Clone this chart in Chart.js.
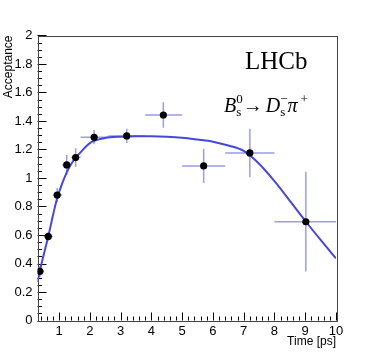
<!DOCTYPE html>
<html><head><meta charset="utf-8">
<script src="https://cdn.jsdelivr.net/npm/chart.js@4/dist/chart.umd.min.js"></script>
<style>html,body{margin:0;padding:0;background:#fff}canvas{display:block}</style>
</head><body>
<canvas id="c" width="374" height="357"></canvas>
<script>
// Measured acceptance points (bin centres, values, bin edges, errors)
const timeCenters = [0.38, 0.65, 0.94, 1.25, 1.54, 2.14, 3.2, 4.39, 5.70, 7.2, 9.02];
const acceptance  = [0.345, 0.59, 0.88, 1.092, 1.143, 1.286, 1.295, 1.442, 1.085, 1.176, 0.693];
const binLow      = [0.3, 0.5, 0.8, 1.1, 1.4, 1.7, 2.6, 3.8, 5.0, 6.4, 8.0];
const binHigh     = [0.5, 0.8, 1.1, 1.4, 1.7, 2.6, 3.8, 5.0, 6.4, 8.0, 10.0];
const accErr      = [0.04, 0.03, 0.05, 0.07, 0.065, 0.05, 0.05, 0.09, 0.12, 0.17, 0.35];
// Fitted acceptance curve
const curveTime = [0.3,0.4,0.5,0.65,0.8,0.94,1.1,1.25,1.4,1.55,1.7,2.0,2.5,3.0,3.5,4.0,4.5,5.0,5.5,6.0,6.5,7.0,7.5,8.0,8.5,9.0,9.5,10];
const curveAcc  = [0.27,0.37,0.46,0.59,0.735,0.86,0.96,1.04,1.10,1.145,1.18,1.245,1.28,1.29,1.293,1.293,1.29,1.283,1.27,1.255,1.228,1.19,1.10,0.978,0.84,0.70,0.565,0.436];
// Axis tick labels
const xTickValues = [1,2,3,4,5,6,7,8,9,10];
const yTickValues = [0,0.2,0.4,0.6,0.8,1,1.2,1.4,1.6,1.8,2];

const pointData = timeCenters.map((t,i)=>({x:t,y:acceptance[i]}));
const curveData = curveTime.map((t,i)=>({x:t,y:curveAcc[i]}));
const errData = [];
timeCenters.forEach((t,i)=>{
  errData.push({x:binLow[i],y:acceptance[i]},{x:binHigh[i],y:acceptance[i]},{x:binHigh[i],y:null});
  errData.push({x:t,y:acceptance[i]-accErr[i]},{x:t,y:acceptance[i]+accErr[i]},{x:t,y:null});
});

const SANS = "'Liberation Sans', Arial, Helvetica, sans-serif";
const SERIF = "'Liberation Serif', 'Times New Roman', serif";

const framePlugin = {
  id:'frame',
  beforeDatasetsDraw(chart){
    const {ctx, chartArea:a, scales:{x,y}} = chart;
    ctx.save();
    ctx.strokeStyle = '#000'; ctx.lineWidth = 1;
    ctx.beginPath();
    for (let v=0.4; v<=10.0001; v+=0.2){
      const px = Math.round(x.getPixelForValue(v))+0.5;
      const major = Math.abs(v-Math.round(v))<1e-6;
      const len = major?8:4;
      ctx.moveTo(px,a.bottom); ctx.lineTo(px,a.bottom-len);
    }
    for (let v=0; v<=2.0001; v+=0.05){
      const py = Math.round(y.getPixelForValue(v))+0.5;
      const major = Math.abs(v*5-Math.round(v*5))<1e-6;
      const len = major?9:4.5;
      ctx.moveTo(a.left,py); ctx.lineTo(a.left+len,py);
    }
    ctx.stroke();
    ctx.strokeStyle='#444';
    ctx.strokeRect(Math.round(a.left)+0.5, Math.round(a.top)+0.5, Math.round(a.right-a.left), Math.round(a.bottom-a.top));
    ctx.restore();
  },
  afterDraw(chart){
    const ctx = chart.ctx;
    ctx.save();
    ctx.fillStyle='#000';
    ctx.textBaseline='alphabetic';
    ctx.textAlign='left';
    ctx.font = "25px "+SERIF;
    ctx.fillText('LHCb', 245, 69);
    let xp = 224, base = 112;
    const big = 20, small = 13;
    function put(txt, font, dy){ ctx.font=font; ctx.fillText(txt, xp, base+dy); return ctx.measureText(txt).width; }
    let w = put('B', 'italic '+big+'px '+SERIF, 0); xp += w;
    let wsub = put('s', small+'px '+SERIF, 4);
    put('0', small+'px '+SERIF, -9);
    ctx.font = small+'px '+SERIF;
    xp += Math.max(wsub, ctx.measureText('0').width);
    w = put('\u2192', big+'px '+SERIF, 0); xp += w+3;
    w = put('D', 'italic '+big+'px '+SERIF, 0); xp += w;
    wsub = put('s', small+'px '+SERIF, 4);
    put('\u2212', small+'px '+SERIF, -9);
    ctx.font = small+'px '+SERIF;
    xp += Math.max(wsub, ctx.measureText('\u2212').width);
    w = put('\u03C0', 'italic '+big+'px '+SERIF, 0); xp += w+3;
    put('+', small+'px '+SERIF, -9);
    ctx.restore();
  }
};

new Chart(document.getElementById('c'), {
  type:'line',
  data:{datasets:[
    {data:pointData, showLine:false, pointRadius:3.6, pointBackgroundColor:'#000', pointBorderColor:'#000', pointBorderWidth:0, order:0},
    {data:curveData, borderColor:'#4848d8', borderWidth:2, pointRadius:0, cubicInterpolationMode:'monotone', order:1},
    {data:errData, borderColor:'#9c9ce8', borderWidth:1.5, pointRadius:0, tension:0, spanGaps:false, order:2}
  ]},
  options:{
    responsive:false, animation:false, devicePixelRatio:1,
    layout:{padding:{top:35.5, right:38, left:0, bottom:0}},
    plugins:{legend:{display:false}, tooltip:{enabled:false}},
    scales:{
      x:{type:'linear', min:0.3, max:10, position:'bottom',
        afterBuildTicks:s=>{s.ticks = xTickValues.map(v=>({value:v}));},
        afterFit:s=>{s.height=36.5;},
        grid:{display:false, drawTicks:false}, border:{display:false},
        ticks:{color:'#000', font:{family:SANS, size:13}, padding:3, maxRotation:0, autoSkip:false},
        title:{display:true, text:'Time [ps]', align:'end', color:'#000', font:{family:SANS, size:12}, padding:{top:0,bottom:8}}
      },
      y:{type:'linear', min:0, max:2, position:'left',
        afterBuildTicks:s=>{s.ticks = yTickValues.map(v=>({value:v}));},
        afterFit:s=>{s.width=37.5;},
        grid:{display:false, drawTicks:false}, border:{display:false},
        ticks:{color:'#000', font:{family:SANS, size:13}, padding:5, autoSkip:false, callback:v=>String(Math.round(v*10)/10)},
        title:{display:true, text:'Acceptance', align:'end', color:'#000', font:{family:SANS, size:12}, padding:{top:1.5,bottom:0}}
      }
    }
  },
  plugins:[framePlugin]
});
</script>
</body></html>
